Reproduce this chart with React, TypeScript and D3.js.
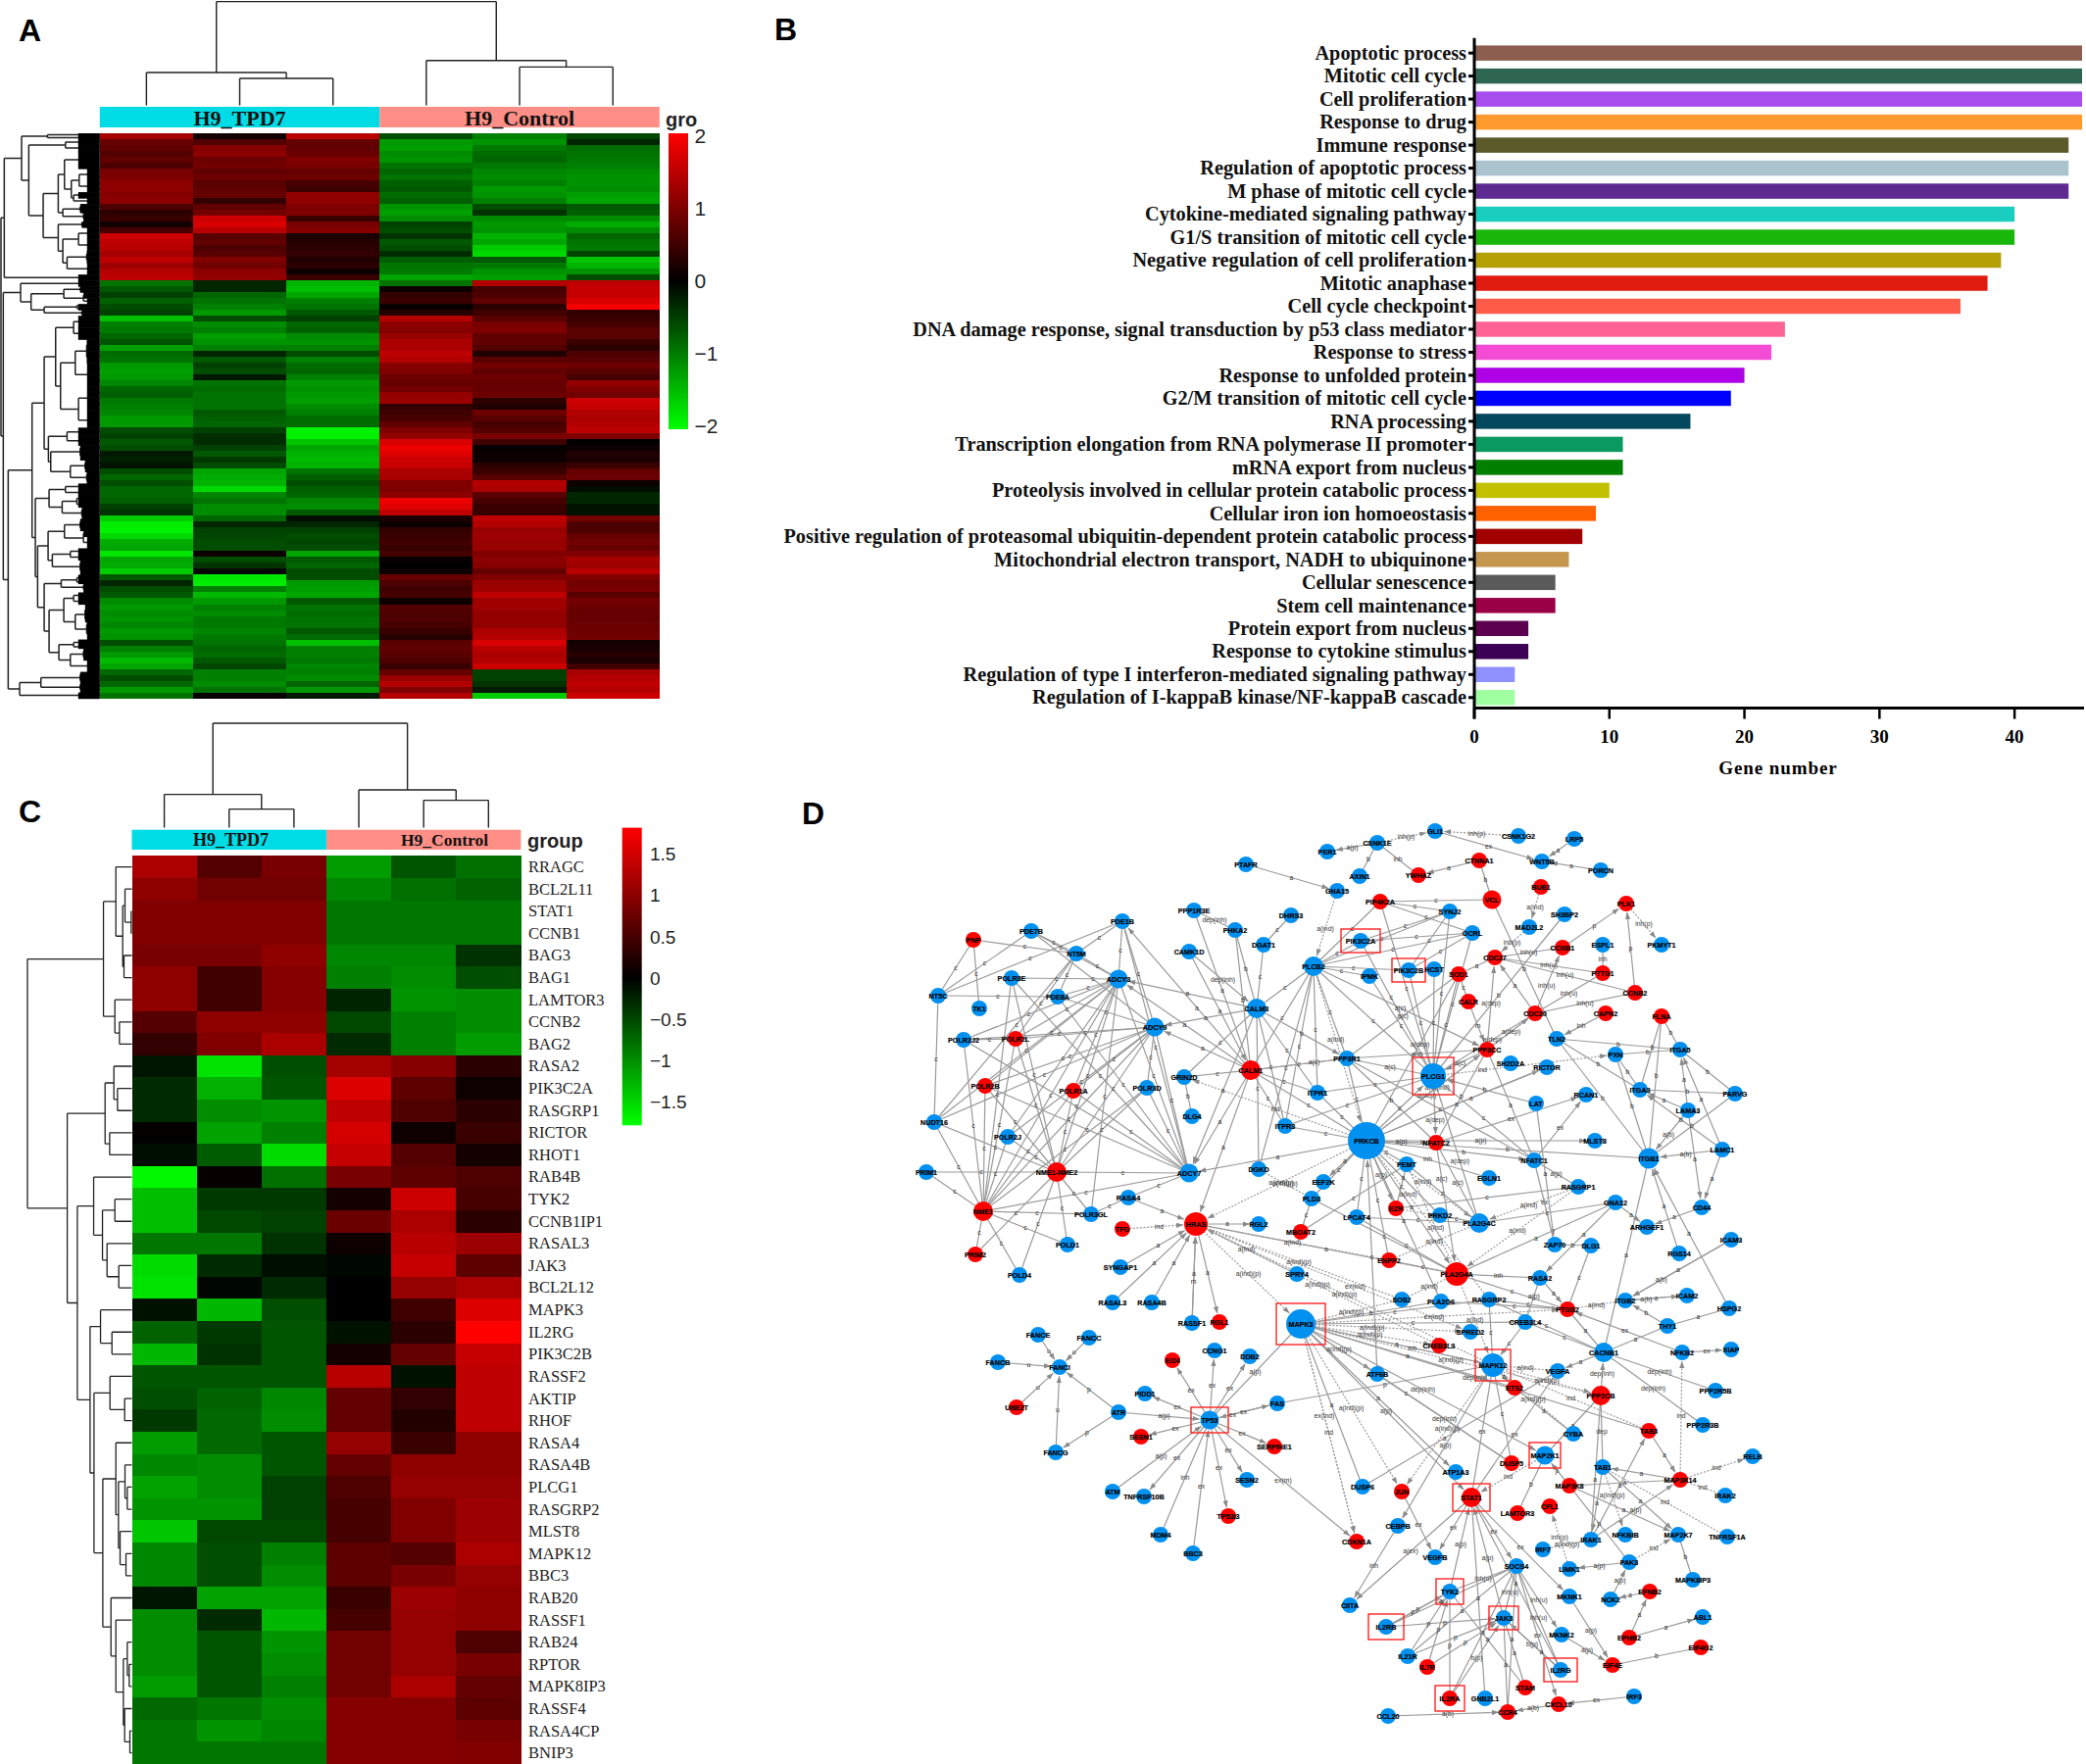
import React from 'react';
import * as d3 from 'd3';

type TreeNode = number | any[];

// ---------- panel A ----------
const groupsA = ['H9_TPD7', 'H9_Control'];
const legendTicksA = [2, 1, 0, -1, -2];
// expression bands, top to bottom, one array per sample
const tpd7A = [1.3,.8,.75,.65,.75,.6,.95,1,1.1,1.1,1.05,1.1,.6,.35,.45,.15,.55,1.6,1.5,1.45,1.3,1.5,1.25,1.4,1.5,-.9,-.7,-.5,-.75,-.6,-.5,-1.5,-1,-.95,-.8,-.65,-1.25,-.85,-.9,-1.2,-1.25,-1.2,-1.05,-.8,-.75,-.95,-1,-1.05,-1.2,-1.2,-.6,-.5,-.7,-.6,-.2,-.25,-.15,-.6,-.8,-.6,-.8,-.8,-.75,-.5,-.4,-1.6,-1.85,-1.9,-1.7,-1.35,-1.3,-1.8,-1.3,-1.35,-1.6,-.7,-.3,-.6,-.7,-1.1,-1.2,-1.1,-1.15,-1.05,-1.2,-1.15,-.6,-1,-1.2,-1.45,-1.3,-.8,-.6,-.8,-1.2,-.9];
const tpd7B = [.15,.65,1.05,1.1,.85,.9,.75,.85,.7,.75,.8,.4,.75,.9,1.6,1.7,1.45,.7,.75,.6,.7,1,.9,1.1,1.15,-.3,-.3,-.8,-.9,-1,-1.2,-.6,-1.1,-1,-1.25,-1.15,-1,-.3,-.7,-.5,-.6,-.2,-.9,-.85,-.9,-.9,-.9,-.7,-.75,-.8,-.5,-.35,-.35,-.5,-.7,-.45,-.6,-1.3,-1.35,-1.4,-1.7,-1.05,-.9,-1.1,-1.1,-.8,-.3,-.5,-.55,-.6,-.6,.1,-.6,-.4,-.05,-1.8,-1.85,-1,-1.45,-1.2,-1,-1.1,-.95,-.95,-1.05,-.95,-.9,-.8,-.85,-.7,-.55,-1,-1,-1.1,-.9,.05];
const tpd7C = [1.45,.8,.75,.85,1,.95,.8,.85,.55,.5,1.15,1.15,1,1,.45,.95,1.05,.2,.3,.35,.4,.25,.35,.1,.45,-1.4,-1.5,-1.3,-1,-.9,-.7,-.5,-.8,-.75,-1.1,-1.15,-1,-.6,-1,-.85,-.8,-1,-1.2,-1.15,-1.2,-1.25,-1.1,-1,-.85,-.85,-1.9,-1.9,-1.55,-1.3,-1.4,-1.45,-1.4,-.9,-.75,-.6,-.75,-.8,-1.05,-1.1,-.7,-.1,-.3,-.5,-.6,-.55,-.6,-1.3,-.7,-.8,-.6,-.6,-1.2,-1.25,-1.3,-.7,-.9,-.85,-.9,-.9,-.7,-.85,-1.5,-1,-1,-.95,-1.05,-1,-1.1,-.8,-1.2,-.2];
const controlA = [-.6,-1.2,-1.25,-1.1,-1.15,-.9,-.8,-.9,-.75,-.7,-.85,-.75,-1.15,-1.25,-1.1,-.5,-.6,-.4,-.7,-.6,-.35,-.75,-.9,-.95,-1.3,-.9,.1,.4,.45,.05,.3,1.4,1.1,1.05,1.2,1.35,1.35,1.5,1.4,1.05,1,.85,.8,.9,1.15,1.2,.4,.5,.55,.75,1,1.15,1.7,1.85,1.75,1.6,1.55,1.35,1.3,1,1,1.1,1.85,1.75,1.5,.2,.1,.4,.45,.5,.45,.55,.05,0,.1,.8,.6,.5,.55,.1,.65,.6,.6,.55,.45,.3,.7,.75,.7,.6,.45,.8,1.2,1.4,1,1.4];
const controlB = [-1,-1.15,-.95,-.85,-.8,-.95,-1.05,-1.1,-1,-1.2,-1.15,-1,-.6,-.4,-1.1,-1.2,-1.15,-1.4,-1.3,-1.6,-1.7,-.7,-.95,-1.15,-1.25,1.4,.55,.6,.75,.35,.5,.7,.95,1,.75,.75,.65,.25,.7,.9,.75,.85,.8,.8,.85,.35,.25,.85,.7,.55,.65,.95,.5,.05,.1,.1,.35,.45,.7,1.4,1.35,.7,.55,.45,.45,1.5,1.4,1.2,1.25,1.2,1.2,1,1.1,1.05,.8,1,1.2,1.25,1.5,1.25,1.25,1.15,1.15,1.15,1.35,1.4,1.7,1.45,1.35,1.4,1.6,-.5,-.5,-.4,-.2,-1.6];
const controlC = [-.55,-.3,-.85,-.9,-.95,-1,-1.1,-1.15,-1.15,-1.1,-1.25,-1.3,-.7,-.75,-1.1,-1.35,-1.1,-.8,-.9,-.95,-.55,-1.55,-1.4,-1.15,-.6,1.5,1.55,1.55,1.7,1.95,.4,.45,.55,.7,.7,.45,.35,.6,.7,.85,.7,.55,1.15,1,.9,1.6,1.55,1.4,1.35,1.4,1.5,1,0,.1,.25,.2,.45,.8,.85,.1,-.1,-.3,-.3,-.15,-.15,.9,.6,.6,.8,.9,.8,1,1.3,1.25,1.45,1,.9,.95,.7,.9,.85,.8,.8,.85,.85,.9,.15,.2,.3,.2,.5,1.3,1.4,1.5,1.4,1.6];
const samplesA = [tpd7A, tpd7B, tpd7C, controlA, controlB, controlC];
// merge heights; a bare number is a leaf and its weight in bands
const colTreeA: TreeNode = [106, [33.6, 1, [27.6, 1, 1]], [45.8, 1, [39.2, 1, 1]]];
const rowTreeA: TreeNode = [302,
  [292,
    [239, [160, .5, .5],
      [217, [105, 1, 1],
        [173,
          [127,
            [108, 3, [87, [63, [30, 1, 1], [25, 1, 1]], [80, 1, [30, .5, .5]]]],
            [113, [60, 1, .5], [50, .5, 1]]],
          [127, [55, .5, .5], [113, [65, [30, 1, 1], [20, 1, 1]], [100, [40, 1, 1], [30, 1, 1]]]]]]],
    1],
  [295,
    [242, 1, [210, [110, [60, .5, .5], [50, 1, [30, .5, .5]]], [170, [70, .5, .5], [55, .5, .5]]]],
    [280,
      [207,
        [170,
          [135, [80, 2, 2], [120, [75, [40, 2, 2], [30, 2, 2]], [65, [35, 2, 2], [30, 2, 1]]]],
          [157, [100, 1.5, 1.5], [150, [60, 1, 1.5], [90, [45, 1, 1], [40, 1, 1]]]]],
        [197,
          [155, [105, 1, 1], [115, [70, 1, 1], [55, 1, 1]]],
          [190,
            [158, [108, [60, 1, 1], [50, 1, [25, 1, 1]]], [145, [90, 1, 1], [60, 1, 1.5]]],
            [170, [118, [70, 1, .5], [50, .5, 1]],
              [155, [110, [80, 1, 1], [75, [45, 2, 1], [40, 1, [20, 1, 1]]]],
                [125, [80, 1, .5], [90, [50, 1, 1], [35, 1, 1]]]]]]]],
      [245, [180, [60, 1, 1], [60, .5, 1]], 1]]]];

// ---------- panel B ----------
const goTerms = ['Apoptotic process', 'Mitotic cell cycle', 'Cell proliferation', 'Response to drug', 'Immune response', 'Regulation of apoptotic process', 'M phase of mitotic cell cycle', 'Cytokine-mediated signaling pathway', 'G1/S transition of mitotic cell cycle', 'Negative regulation of cell proliferation', 'Mitotic anaphase', 'Cell cycle checkpoint', 'DNA damage response, signal transduction by p53 class mediator', 'Response to stress', 'Response to unfolded protein', 'G2/M transition of mitotic cell cycle', 'RNA processing', 'Transcription elongation from RNA polymerase II promoter', 'mRNA export from nucleus', 'Proteolysis involved in cellular protein catabolic process', 'Cellular iron ion homoeostasis', 'Positive regulation of proteasomal ubiquitin-dependent protein catabolic process', 'Mitochondrial electron transport, NADH to ubiquinone', 'Cellular senescence', 'Stem cell maintenance', 'Protein export from nucleus', 'Response to cytokine stimulus', 'Regulation of type I interferon-mediated signaling pathway', 'Regulation of I-kappaB kinase/NF-kappaB cascade'];
const geneCounts = [45, 45, 45, 45, 44, 44, 44, 40, 40, 39, 38, 36, 23, 22, 20, 19, 16, 11, 11, 10, 9, 8, 7, 6, 6, 4, 4, 3, 3];
const barColors = ['#8B5E4F', '#2F6650', '#A64DEE', '#FF9A2E', '#5C5A2A', '#AAC3CF', '#5C2A91', '#19CDBF', '#19B70A', '#B49F05', '#E01B10', '#FF5B49', '#FF6495', '#F54CD5', '#AF02E6', '#0000FF', '#04485E', '#0A9A60', '#007F00', '#C1C100', '#FF6000', '#A00000', '#C4964E', '#5A5A5A', '#990045', '#5E0050', '#3C0055', '#9090FF', '#A0FFA0'];
const geneTicks = [0, 10, 20, 30, 40];

// ---------- panel C ----------
const genesC = ['RRAGC', 'BCL2L11', 'STAT1', 'CCNB1', 'BAG3', 'BAG1', 'LAMTOR3', 'CCNB2', 'BAG2', 'RASA2', 'PIK3C2A', 'RASGRP1', 'RICTOR', 'RHOT1', 'RAB4B', 'TYK2', 'CCNB1IP1', 'RASAL3', 'JAK3', 'BCL2L12', 'MAPK3', 'IL2RG', 'PIK3C2B', 'RASSF2', 'AKTIP', 'RHOF', 'RASA4', 'RASA4B', 'PLCG1', 'RASGRP2', 'MLST8', 'MAPK12', 'BBC3', 'RAB20', 'RASSF1', 'RAB24', 'RPTOR', 'MAPK8IP3', 'RASSF4', 'RASA4CP', 'BNIP3'];
const tpd7Ca = [1.2,1,.9,.9,.85,1,1,.6,.35,-.15,-.3,-.3,.02,-.1,-1.75,-1.35,-1.35,-.85,-1.55,-1.6,-.12,-.7,-1.3,-.6,-.55,-.4,-1.1,-.95,-1.15,-1.05,-1.4,-.95,-.95,-.15,-1,-1,-1,-1.1,-.75,-.85,-.85];
const tpd7Cb = [.6,.8,.9,.9,.85,.45,.45,1,.9,-1.6,-1.25,-1,-1.15,-.65,.05,-.4,-.5,-.85,-.3,-.05,-1.3,-.4,-.35,-.6,-.7,-.75,-.75,-1,-1,-1.05,-.5,-.55,-.55,-1.15,-.3,-.6,-.6,-.6,-.85,-1.05,-.85];
const tpd7Cc = [.85,.8,.9,.9,1,.95,.95,1,1.2,-.55,-.6,-1.05,-.9,-1.55,-.8,-.4,-.45,-.35,-.1,-.3,-.55,-.6,-.6,-.6,-.95,-1,-.6,-.6,-.45,-.45,-.5,-.9,-1,-1.15,-1.3,-1.05,-1,-.9,-1,-.95,-.85];
const controlCa = [-1.1,-.95,-.85,-.85,-.95,-.9,-.25,-.5,-.3,1.15,1.55,1.35,1.5,1.4,.85,.15,.75,.1,-.05,0,0,-.12,.15,1.3,.7,.7,1.05,.7,.55,.5,.5,.65,.65,.4,.5,.8,.8,.8,.95,.95,.95];
const controlCb = [-.6,-.8,-.85,-.85,-.95,-1,-1.05,-.9,-.9,.95,.65,.55,.1,.6,.65,1.45,1.2,1.3,1.4,1.05,.45,.3,.7,-.12,.35,.25,.4,1,1.05,.9,.9,.6,.85,1.1,1.05,1.05,1.05,1.2,.95,.95,.95];
const controlCc = [-.8,-.7,-.85,-.85,-.35,-.55,-1,-1,-1.1,.3,.1,.3,.4,.15,.55,.5,.3,1.1,.65,1.2,1.55,1.8,1.4,1.35,1.35,1.35,1,1,1.05,1.1,1.1,1.2,1.05,1,1,.55,.85,.7,.65,.85,.9];
const samplesC = [tpd7Ca, tpd7Cb, tpd7Cc, controlCa, controlCb, controlCc];
const legendTicksC = [1.5, 1, .5, 0, -.5, -1, -1.5];
const colTreeC: TreeNode = [106.6, [34, 1, [19, 1, 1]], [38.6, 1, [28, 1, 1]]];
const rowTreeC: TreeNode = [320,
  [87, [49, 1, [28, [21, 1, [2, 1, 1]], [24, 1, 1]]], [52, 1, [38, 1, 1]]],
  [198, [82, [55, 1, [44, 1, 1]], [68, 1, 1]],
    [167, [117, 1, [90, [52, 1, 1], [76, 1, [40, 1, 1]]]],
      [128, [96, 1, [61, 1, 1]],
        [116, [67, 1, [22, 1, 1]],
          [89, [49, 1, [41, [21, 1, [14, 1, 1]], [36, 1, [18, 1, 1]]]],
            [64, 1, [49, 1, [26, [14, 1, [8, 1, 1]], [22, 1, [6, 1, 1]]]]]]]]]]];

// ---------- panel D: layout position of every protein ----------
const upNodes = 'PIP4K2A 1408 920,PNP 993 959,YWHAZ 1447 893,SOD1 1488 994,POLR2L 1036 1060,CALM1 1276 1092,POLR2B 1005 1108,POLR1A 1095 1113,NFATC2 1465 1166,NME1-NME2 1078 1196,NME1 1003 1236,EZR 1424 1233,TFG 1145 1254,HRAS 1220 1249,MBOAT2 1327 1257,PRIM2 995 1280,ENPP2 1417 1286,PLA2G4A 1486 1300,CTNNA1 1509 878,BUB1 1572 905,VCL 1522 918,PLK1 1659 922,CCNB1 1594 967,CDC27 1525 977,PTTG1 1635 993,CCNB2 1668 1013,CALR 1498 1022,CDC20 1566 1034,CAPN2 1638 1034,FLNA 1695 1037,PPP3CC 1517 1071,PTGS2 1599 1336,CREB3L3 1468 1373,ETS2 1545 1416,PPP2CB 1633 1424,TAB3 1682 1460,DUSP5 1542 1493,MAP3K14 1714 1510,MAP3K8 1601 1516,JUN 1430 1522,STAT1 1501 1528,CFL1 1581 1537,LAMTOR3 1548 1544,EFNB2 1683 1624,EPHB2 1662 1671,EIF4G2 1735 1681,IL7R 1456 1701,EIF4E 1645 1699,STAM 1556 1722,IL2RA 1479 1733,CCR4 1538 1747,CXCL10 1590 1739,RGL1 1244 1349,EI24 1196 1388,UBE2T 1037 1436,SESN1 1164 1466,SERPINE1 1300 1476,TP53I3 1253 1547,CDKN1A 1384 1573'.split(',');
const downNodes = 'GLI1 1464 848,CSNK1E 1405 860,PER1 1354 869,AXIN1 1387 894,PTAFR 1271 882,GNA15 1364 909,SYNJ2 1479 930,PPP1R3E 1218 929,DHRS3 1317 934,PHKA2 1260 949,DGAT1 1289 964,PDE1B 1145 940,PDE7B 1052 950,NT5M 1098 973,CAMK1D 1213 971,PIK3C2A 1388 960,PLCB2 1340 986,PIK3C2B 1437 990,HCST 1463 989,IPMK 1397 996,POLR3E 1032 998,ADCY3 1141 999,NT5C 957 1016,PDE8A 1079 1017,TK1 999 1029,CALM3 1282 1029,ADCY9 1178 1048,POLR2J2 983 1061,PPP3R1 1374 1080,PLCG1 1462 1098,GRIN2D 1208 1099,POLR3D 1170 1110,ITPR1 1344 1115,DLG4 1216 1139,NUDT16 953 1145,ITPR3 1311 1149,PRKCB 1394 1164,POLR2J 1028 1160,PRIM1 945 1196,ADCY7 1213 1197,DGKD 1284 1193,PEMT 1435 1188,EEF2K 1350 1206,RASA4 1151 1222,PLD3 1338 1223,LPCAT4 1384 1242,PRKD2 1469 1240,POLR3GL 1113 1239,RGL2 1284 1249,POLD1 1089 1270,SYNGAP1 1143 1293,SPRY4 1323 1300,POLD4 1040 1301,CSNK1G2 1549 853,LRP5 1606 856,WNT5B 1573 879,PORCN 1633 888,SH3BP2 1596 933,MAD2L2 1560 946,OCRL 1502 952,PKMYT1 1695 964,ESPL1 1635 964,TLN2 1588 1060,PXN 1648 1076,ITGA5 1714 1071,SH2D2A 1541 1085,RICTOR 1578 1089,ITGA3 1673 1112,PARVG 1770 1116,RCAN1 1618 1117,LAT 1567 1126,LAMA3 1722 1133,MLST8 1627 1164,LAMC1 1757 1173,ITGB1 1682 1182,NFATC1 1565 1184,EGLN1 1519 1202,RASGRP1 1610 1211,GNA12 1648 1227,CD44 1736 1232,PLA2G4C 1509 1248,ARHGEF1 1680 1252,ICAM3 1766 1265,ZAP70 1586 1270,DLG1 1623 1271,RGS14 1713 1279,RASA2 1571 1304,SOS2 1430 1326,PLA2G6 1470 1328,RASGRP2 1519 1326,ITGB2 1658 1327,ICAM2 1721 1322,HSPG2 1764 1335,CREB3L4 1556 1349,THY1 1701 1353,SPRED2 1500 1359,CACNB1 1636 1380,NFKB2 1716 1380,XIAP 1766 1377,MAPK12 1523 1393,VEGFA 1589 1399,ATF6B 1405 1402,PPP2R5B 1750 1419,PPP2R3B 1737 1454,CYBA 1605 1463,MAP2K1 1576 1485,RELB 1788 1486,TAB1 1635 1497,ATP1A3 1485 1502,IRAK2 1760 1526,CEBPB 1426 1557,NFKBIB 1658 1566,MAP2K7 1712 1566,TNFRSF1A 1762 1568,IRAK1 1623 1571,IRF7 1574 1581,VEGFB 1464 1589,PAK3 1662 1594,SOCS4 1547 1598,LIMK1 1601 1601,MAPK8IP3 1727 1612,TYK2 1479 1624,MKNK1 1601 1629,NCK2 1643 1632,ABL1 1737 1650,JAK3 1534 1651,IL2RB 1414 1660,MKNK2 1593 1668,IL21R 1436 1690,IL2RG 1592 1704,GNB2L1 1515 1733,IRF3 1667 1731,CCL20 1416 1751,RASAL3 1135 1329,RASA4B 1175 1329,RASSF1 1216 1350,MAPK3 1327 1351,FANCE 1059 1362,FANCC 1111 1365,CCNG1 1239 1378,DDB2 1275 1384,FANCB 1018 1390,FANCI 1081 1395,PIDD1 1168 1422,ATR 1141 1441,FAS 1303 1432,TP53 1234 1449,FANCG 1077 1482,SESN2 1272 1510,ATM 1135 1522,TNFRSF10B 1167 1527,DUSP6 1390 1517,MDM4 1184 1566,BBC3 1217 1585,CIITA 1377 1638'.split(',');
const nodeSizes: Record<string, number> = { PRKCB: 19, MAPK3: 15, PLCG1: 13, MAPK12: 12, HRAS: 12, PLA2G4A: 12, ITGB1: 10.5, PLA2G4C: 10, CALM1: 10, 'NME1-NME2': 10, NME1: 10, STAT1: 10, PPP2CB: 10, PLCB2: 10, CALM3: 10, VCL: 9.5, CACNB1: 10, TP53: 9.5, MAP2K1: 9.5, ADCY9: 9.5, ADCY3: 9.5, ADCY7: 9.5 };
const boxedNodes = 'PIK3C2A 20 12,PIK3C2B 17 12,PLCG1 21 19,MAPK3 25 21,TP53 19 13,MAPK12 18 16,MAP2K1 16 13,STAT1 19 14,TYK2 14 13,JAK3 15 12,IL2RB 18 13,IL2RG 17 12,IL2RA 15 13'.split(',');
// "source target label" and a trailing ">" where the edge has an arrow head
const edgeList = `CSNK1E PER1 a(p) >,CSNK1E AXIN1 b,CSNK1E YWHAZ inh,CSNK1E GLI1 inh(p) >,CSNK1G2 GLI1 inh(p) >,GLI1 WNT5B ex >,CTNNA1 YWHAZ a >,CTNNA1 VCL b,LRP5 WNT5B a >,PORCN WNT5B a >,PTAFR GNA15 a >,GNA15 PLCB2 a(ind) >,PIP4K2A VCL c,PIP4K2A SYNJ2 c,PIP4K2A OCRL c,PIP4K2A PLCB2 c,PIP4K2A PLCG1 c,PPP1R3E PHKA2 dep(inh),PPP1R3E CALM1 a,PHKA2 CALM3 b,PHKA2 CALM1 b,DHRS3 DGAT1 c,DGAT1 CALM3 c,CAMK1D CALM3 dep(inh) >,CAMK1D CALM1 a >,PLCB2 CALM3 c,PLCB2 PIK3C2A c,PLCB2 PIK3C2B c,PLCB2 IPMK c,PLCB2 SYNJ2 c,PLCB2 OCRL c,PLCB2 CALM1 c,PLCB2 ITPR1 c,PLCB2 ITPR3 c,PLCB2 DGKD c,PLCB2 PPP3R1 c,PLCB2 PLCG1 c,PLCB2 PRKCB a(ind) >,PLCB2 PPP3CC a(c) >,PIK3C2A SYNJ2 c,PIK3C2A OCRL c,PIK3C2A PLCG1 c,PIK3C2B OCRL c,PIK3C2B SYNJ2 c,PIK3C2B PLCG1 c,HCST PLCG1 c,SOD1 CDC27 a,SOD1 CALR c,SOD1 PLCG1 c,OCRL PLCG1 c,SYNJ2 PLCG1 c,IPMK PLCG1 c,PNP NT5M c,PNP NT5C c,PNP TK1 c,PDE7B NT5C c,PDE1B NT5C c,PDE1B NT5M c,PDE7B NT5M c,PDE7B ADCY3 c,PDE7B ADCY9 c,PDE1B ADCY3 c,PDE1B ADCY9 c,PDE1B ADCY7 c,NT5M ADCY3 c,NT5M PDE8A c,NT5M POLR2L c,NT5M NUDT16 c,NT5C PDE8A c,NT5C NUDT16 c,POLR3E ADCY3 c,POLR3E NME1 c,POLR3E NME1-NME2 c,POLR3E ADCY7 c,PDE8A ADCY3 c,PDE8A ADCY9 c,PDE8A ADCY7 c,ADCY3 POLR2J2 c,ADCY3 NME1 c,ADCY3 NME1-NME2 c,ADCY3 POLR1A c,ADCY3 POLR2J c,ADCY3 POLR3GL c,ADCY3 POLR2L c,ADCY3 POLR2B c,ADCY3 NUDT16 c,ADCY3 ADCY7 c,ADCY9 POLR2J2 c,ADCY9 POLR2L c,ADCY9 POLR2B c,ADCY9 POLR1A c,ADCY9 NME1 c,ADCY9 NME1-NME2 c,ADCY9 POLR2J c,ADCY9 POLR3D c,ADCY9 NUDT16 c,ADCY9 ADCY7 c,POLR2J2 POLR2L c,POLR2J2 NME1 c,POLR2J2 ADCY7 c,POLR2L NME1 c,POLR2L NME1-NME2 c,POLR2B NME1 c,POLR2B NME1-NME2 c,POLR2B ADCY7 c,POLR1A NME1 c,POLR1A NME1-NME2 c,POLR1A ADCY7 c,POLR3D NME1 c,POLR3D NME1-NME2 c,POLR3D ADCY7 c,NUDT16 NME1 c,NUDT16 NME1-NME2 c,POLR2J NME1 c,POLR2J NME1-NME2 c,PRIM1 NME1 c,PRIM1 NME1-NME2 c,NME1 ADCY7 c,NME1-NME2 ADCY7 c,NME1 POLR3GL c,NME1 POLD1 c,NME1 POLD4 c,NME1 PRIM2 c,NME1-NME2 POLD1 c,NME1-NME2 POLD4 c,NME1-NME2 PRIM2 c,NME1-NME2 POLR3GL c,RASA4 POLR3GL c,ADCY7 RASA4 c,CALM3 ADCY3 a >,CALM3 ADCY9 a >,CALM1 ADCY3 a >,CALM1 ADCY9 a >,CALM1 PDE1B a >,CALM3 GRIN2D c,CALM1 GRIN2D c,GRIN2D DLG4 b,CALM3 ITPR1 c,CALM3 ITPR3 c,CALM3 PPP3R1 b >,CALM1 PPP3R1 c,CALM1 PPP3R1 a(c),CALM1 ITPR1 c,CALM1 ITPR3 c,CALM1 PRKCB c,CALM1 ADCY7 a >,CALM3 ADCY7 a >,CALM1 HRAS a >,CALM3 DGKD c,PPP3R1 PRKCB c,PPP3R1 PLCG1 a(c),PPP3R1 SOD1 a(c),PPP3R1 NFATC2 b,PPP3R1 PPP3CC a(c),PPP3R1 NFATC1 c,ITPR1 PRKCB c,ITPR1 PLCG1 c,ITPR3 PRKCB c,ITPR3 PLCG1 c,PRKCB PLCG1 c >,PRKCB GRIN2D ind >,PRKCB ADCY7 a >,PRKCB NFATC2 a(p) >,PRKCB MLST8 a(p) >,PRKCB NFATC1 b >,PRKCB EGLN1 inh,PRKCB EEF2K a >,PRKCB PLD3 c,PRKCB PEMT c,PRKCB HRAS a(ind)(p) >,PRKCB EZR a(p) >,PRKCB LPCAT4 c,PRKCB PRKD2 a,PRKCB PLA2G4A a >,PRKCB PLA2G4C a(ind) >,PRKCB ENPP2 c,PRKCB PLA2G6 a,PRKCB RICTOR a >,PRKCB PPP3CC a(dep) >,PRKCB CDC20 a(c)(ind),PRKCB SOD1 a(dep),RASA4 HRAS a >,TFG HRAS ind >,HRAS RGL2 a >,SYNGAP1 HRAS a >,RASAL3 HRAS a >,RASA4B HRAS a >,RASSF1 HRAS a >,RASSF1 HRAS m >,HRAS RGL1 a >,HRAS PLA2G4A a,SPRY4 HRAS a(ind) >,HRAS CREB3L3 a(ind)(p),HRAS MAPK3 a(ind)(p) >,HRAS SPRED2 ex(ind) >,HRAS MAPK12 a(ind)(p),HRAS ENPP2 a(ind),HRAS SOS2 a(ind)(p),DGKD PLD3 a(ind)(p),PLD3 MBOAT2 c,PEMT MBOAT2 c,PEMT EZR c,PEMT PLA2G4A a(ind),PEMT PLA2G4C c,PLD3 PLA2G4A c,LPCAT4 PLA2G4A c,LPCAT4 PLA2G4C c,EZR PLA2G4C a(ind),PRKD2 PLA2G4C c,ENPP2 PLA2G4A c,ENPP2 PLA2G4C a(ind),RASGRP1 EZR c,RASGRP1 PLA2G4A a(ind) >,RASGRP1 PLA2G4C a(ind) >,NFATC1 RASGRP1 a(p),VCL TLN2 b,SH3BP2 PLCG1 b,BUB1 MAD2L2 a(ind) >,MAD2L2 CDC27 inh(p) >,PLK1 PKMYT1 inh(p) >,CCNB1 PLK1 p >,CCNB2 PLK1 p >,CDC27 CCNB1 inh(u),CDC27 PTTG1 inh(u),CDC27 CCNB2 inh(u),CDC20 CCNB1 inh(u) >,CDC20 PTTG1 inh(u),CDC20 CCNB2 inh(u),CDC20 CDC27 a >,ESPL1 PTTG1 inh,PPP3CC CDC20 a(dep) >,PPP3CC CDC27 a(dep) >,PLCG1 CDC20 a(dep),CALR PPP3CC m >,CAPN2 TLN2 inh >,TLN2 ITGA5 b,TLN2 ITGB1 b,TLN2 ITGA3 b,PXN ITGA5 b,PXN ITGA3 b,PXN ITGB1 b,FLNA ITGA5 b,FLNA ITGA3 b,FLNA ITGB1 b,ITGA5 PARVG b,ITGA3 PARVG b,LAMA3 ITGA5 a >,LAMA3 ITGA3 a >,LAMC1 ITGA5 a >,LAMC1 ITGA3 b >,LAMA3 ITGB1 a(b) >,LAMC1 ITGB1 a(b) >,PARVG ITGB1 b,PRKCB ITGB1 b,LAMA3 CD44 a >,LAMC1 CD44 a >,CD44 ARHGEF1 a >,GNA12 ARHGEF1 a >,GNA12 PLA2G4C c,GNA12 PLA2G4A a,GNA12 RASA2 a >,LAT ZAP70 a >,ZAP70 DLG1 b,DLG1 PTGS2 c,NFATC1 RCAN1 ex >,NFATC2 RCAN1 ex >,NFATC1 ZAP70 ex,LAT PLCG1 b >,PPP3CC NFATC1 a,PPP3CC NFATC2 b,PPP3CC PLCG1 a(c) >,PLCG1 NFATC2 a(dep) >,PLCG1 PXN ind >,PLCG1 NFATC1 c,RICTOR PRKCB a,NFATC2 PLA2G4C a(c),NFATC2 PLA2G4A a(c) >,PLCG1 PLA2G4C a(dep),RGS14 ITGB1 a >,ICAM3 ITGB2 a >,ICAM3 ITGB2 a(b) >,ITGB2 ICAM2 a >,ITGB2 ICAM2 a(b),THY1 ITGB2 b >,THY1 HSPG2 a,HSPG2 ITGB1 a >,CACNB1 THY1 a,CACNB1 ITGB1 a,CACNB1 PTGS2 a,PTGS2 ITGB2 a(ind),NFKB2 PTGS2 ex >,NFKB2 XIAP ex >,CACNB1 PPP2R5B dep(inh),CACNB1 PPP2R3B dep(inh),PPP2CB CACNB1 dep(inh) >,CACNB1 VEGFA a >,CACNB1 CREB3L4 c,CACNB1 RASGRP2 c,TAB3 MAP3K14 a >,MAP3K14 NFKB2 ind >,MAP3K14 RELB ind >,MAP3K14 IRAK2 ind,MAP3K14 TAB1 a >,MAP3K14 MAP3K8 a,IRAK1 TAB3 a >,TAB1 IRAK1 a >,TAB1 MAP2K7 a >,TAB1 TNFRSF1A ind,TAB1 NFKBIB a(ind)(p) >,IRAK1 PPP2CB a,MAP3K8 MAP2K7 a >,MAP3K8 MAP2K1 p >,MAP3K8 PAK3 p,PAK3 LIMK1 a(p) >,PAK3 MAP2K7 ind >,NCK2 PAK3 a(p) >,EFNB2 NCK2 a >,EPHB2 EFNB2 a >,EPHB2 ABL1 a >,MAP2K7 MAPK8IP3 b,LIMK1 CFL1 inh(p) >,IRAK1 IRF7 a(ind)(p),IRAK1 MAP3K14 a(p) >,MAP2K1 LAMTOR3 b,MKNK1 EIF4E a(p) >,MKNK2 EIF4E a(p) >,EIF4E EIF4G2 b,STAT1 MKNK1 ex >,IRF3 CXCL10 ex >,CCL20 CCR4 a(b) >,CXCL10 CCR4 a(b) >,SOCS4 MKNK2 inh(u) >,SOCS4 TYK2 inh(u),SOCS4 JAK3 inh(u),SOCS4 IL2RG inh(u),SOCS4 IL2RB a,SOCS4 IL21R a,SOCS4 IL2RA a,TYK2 STAT1 a(p) >,JAK3 STAT1 a(p) >,IL2RB TYK2 p >,IL2RB TYK2 p,IL21R TYK2 p >,IL7R TYK2 p >,IL2RA TYK2 p,IL2RB JAK3 p >,IL21R JAK3 p >,IL7R JAK3 p >,IL2RA JAK3 b(p) >,IL2RG JAK3 b(p) >,IL2RG JAK3 a,JAK3 CCR4 a,SOCS4 CCR4 a,JAK3 STAM a,TYK2 STAM a,SOCS4 CXCL10 ex >,STAT1 GNB2L1 a,STAT1 VEGFB ex >,STAT1 SOCS4 ex >,STAT1 CIITA a(ex) >,STAT1 IL2RG a,CEBPB CIITA inh >,JUN VEGFB ex >,MAPK12 JUN a(ind)(p) >,MAPK12 STAT1 ex,MAPK12 DUSP5 c,MAPK12 ETS2 c >,MAPK12 PPP2CB a(ind)(p) >,MAPK12 TAB3 ind,MAPK12 CYBA a(ind)(p),VEGFA MAPK12 a(ind),VEGFA STAT1 ex,ETS2 CYBA a,MAPK12 CEBPB a(p) >,MAPK12 FAS p,TAB1 PPP2CB dep,MAP2K1 PPP2CB a,MAP2K1 STAT1 ind >,CREB3L4 MAPK12 c >,RASGRP2 MAPK12 c,MAPK3 TP53 a(p),MAPK3 DUSP6 a,MAPK3 JUN a(ind)(p) >,MAPK3 CDKN1A ind >,MAPK3 CDKN1A ex(ind) >,MAPK3 ATF6B a(ind)(p) >,MAPK3 ATP1A3 a >,MAPK3 STAT1 a(p) >,MAPK3 ETS2 a,MAPK3 CREB3L3 a(ind)(p) >,MAPK3 PPP2CB a(ind)(p),MAPK3 MAP2K1 dep(inh) >,MAPK3 DUSP5 c,MAPK3 TAB3 dep(inh),MAPK3 PLA2G6 a,MAPK3 PTGS2 ex(ind) >,MAPK3 SOS2 a(ind)(p),MAPK3 RASGRP2 c,MAPK3 MAPK12 a >,MAPK3 MAPK12 inh,MAPK3 CREB3L4 c,MAPK3 SPRED2 a(ind)(p) >,DUSP6 VEGFA a,ATF6B DUSP5 dep(inh),PLA2G6 PTGS2 c >,RASGRP2 PTGS2 c,PLA2G4A PTGS2 c,RASA2 PTGS2 a >,RASA2 CREB3L4 a(p),PLA2G4A RASA2 inh,SOS2 PLA2G4A a(ind),ATF6B PRKCB c >,PRKCB RASGRP2 a(ind),PLA2G4A MAPK12 a(ind) >,TP53 EI24 ex >,TP53 CCNG1 ex >,TP53 DDB2 ex >,TP53 PIDD1 ex >,TP53 SESN1 ex >,TP53 SERPINE1 ex >,TP53 SESN2 ex >,TP53 TP53I3 ex >,TP53 TNFRSF10B ex >,BBC3 TP53 ex >,MDM4 TP53 inh,ATM TP53 a(p) >,ATR TP53 a(p) >,FAS TP53 ex >,TP53 FAS ex >,TP53 CDKN1A ex(m) >,ATR FANCI p >,ATR FANCG p >,FANCG FANCI u >,FANCE FANCI u >,FANCC FANCI u >,FANCB FANCI u >,UBE2T FANCI u >`.split(',');

// colours shared by both heat maps
const heatRamp = (t: number) => t < 0.5 ? d3.rgb(0, Math.round(255 * (1 - 2 * t)), 0).formatHex() : d3.rgb(Math.round(255 * (2 * t - 1)), 0, 0).formatHex();
const SERIF = '"Liberation Serif", serif';
const SANS = '"Liberation Sans", sans-serif';

// walks a nested merge tree and returns a path, plus the span of each leaf
function layoutTree(tree: TreeNode, toDepth: (h: number) => number, toPos: (p: number) => number, horizontal: boolean) {
  const path = d3.path();
  const leaves: { from: number; to: number; parentH: number }[] = [];
  let cursor = 0;
  const seg = (d0: number, p0: number, d1: number, p1: number) => {
    if (horizontal) { path.moveTo(d0, p0); path.lineTo(d1, p1); } else { path.moveTo(p0, d0); path.lineTo(p1, d1); }
  };
  const walk = (n: TreeNode, parentH: number): { pos: number; h: number } => {
    if (typeof n === 'number') {
      leaves.push({ from: cursor, to: cursor + n, parentH });
      const pos = cursor + n / 2;
      cursor += n;
      return { pos, h: 0 };
    }
    const h = n[0] as number;
    const kids = n.slice(1).map((c: TreeNode) => walk(c, h));
    const first = kids[0].pos;
    const last = kids[kids.length - 1].pos;
    kids.forEach((k: { pos: number; h: number }) => seg(toDepth(k.h), toPos(k.pos), toDepth(h), toPos(k.pos)));
    seg(toDepth(h), toPos(first), toDepth(h), toPos(last));
    return { pos: (first + last) / 2, h };
  };
  walk(tree, 0);
  return { d: path.toString(), leaves };
}

function HeatColumns({ samples, x, y, color }: { samples: number[][]; x: d3.ScaleBand<number>; y: d3.ScaleBand<number>; color: (v: number) => string }) {
  return (
    <g shapeRendering="crispEdges">
      {samples.map((col, c) => col.map((v, r) => (
        <rect key={`${c}-${r}`} x={x(c)} y={y(r)} width={x.bandwidth() + 0.5} height={y.bandwidth() + 0.5} fill={color(v)} />
      )))}
    </g>
  );
}

function GradientLegend({ id, x, width, top, bottom, domain }: { id: string; x: number; width: number; top: number; bottom: number; domain: [number, number] }) {
  return (
    <g>
      <defs>
        <linearGradient id={id} x1="0" y1="1" x2="0" y2="0">
          <stop offset="0" stopColor="#00ff00" />
          <stop offset={(0 - domain[0]) / (domain[1] - domain[0])} stopColor="#000000" />
          <stop offset="1" stopColor="#ff0000" />
        </linearGradient>
      </defs>
      <rect x={x} y={top} width={width} height={bottom - top} fill={`url(#${id})`} />
    </g>
  );
}

function PanelA() {
  const n = tpd7A.length;
  const x = d3.scaleBand<number>().domain(d3.range(6)).range([101.8, 672.8]);
  const y = d3.scaleBand<number>().domain(d3.range(n)).range([136, 712.6]);
  const color = d3.scaleSequential(heatRamp).domain([-2, 2]).clamp(true);
  const colTree = layoutTree(colTreeA, d3.scaleLinear().domain([0, 106]).range([107.6, 1.6]), d3.scaleLinear().domain([0, 6]).range([101.8, 672.8]), false);
  const depth = d3.scaleLinear().domain([0, 305]).range([101.8, 0]);
  const pos = d3.scaleLinear().domain([0, 96]).range([136, 712.6]);
  const rowTree = layoutTree(rowTreeA, depth, pos, true);
  const legendY = d3.scaleLinear().domain([-2.04, 2.04]).range([438, 136]);
  return (
    <g>
      <text x={19} y={42} fontFamily={SANS} fontWeight="bold" fontSize={32}>A</text>
      <path d={colTree.d} fill="none" stroke="#222" strokeWidth={1.4} />
      <rect x={x(0)} y={109} width={x.bandwidth() * 3} height={21} fill="#00DCE6" />
      <rect x={x(3)} y={109} width={x.bandwidth() * 3} height={21} fill="#FF8E87" />
      <text x={x(0)! + x.bandwidth() * 1.5} y={120} dy="0.35em" textAnchor="middle" fontFamily={SERIF} fontWeight="bold" fontSize={22} fill="#111">{groupsA[0]}</text>
      <text x={x(3)! + x.bandwidth() * 1.5} y={120} dy="0.35em" textAnchor="middle" fontFamily={SERIF} fontWeight="bold" fontSize={22} fill="#111">{groupsA[1]}</text>
      <text x={679} y={122} dy="0.35em" fontFamily={SANS} fontWeight="bold" fontSize={20} fill="#222">gro</text>
      <path d={rowTree.d} fill="none" stroke="#222" strokeWidth={1.5} />
      <g>
        {rowTree.leaves.map((l, i) => {
          const w = Math.max(Math.min(l.parentH, 66) / 3, 13);
          return <rect key={i} x={101.8 - w} y={pos(l.from)} width={w} height={pos(l.to) - pos(l.from) + 0.6} fill="#000" />;
        })}
      </g>
      <HeatColumns samples={samplesA} x={x} y={y} color={color} />
      <GradientLegend id="legendA" x={682} width={20} top={136} bottom={438} domain={[-2.04, 2.04]} />
      {legendTicksA.map(t => (
        <text key={t} x={708.5} y={legendY(t)} dy="0.35em" fontFamily={SANS} fontSize={21} fill="#222">{t < 0 ? `\u2212${-t}` : t}</text>
      ))}
    </g>
  );
}

function PanelB() {
  const x = d3.scaleLinear().domain([0, 45]).range([1504, 2124]);
  const y = d3.scaleBand<string>().domain(goTerms).range([42.4, 723.5]).paddingInner(0.34).paddingOuter(0.17);
  const axisY = 722.6;
  return (
    <g>
      <text x={790} y={41} fontFamily={SANS} fontWeight="bold" fontSize={32}>B</text>
      {goTerms.map((term, i) => {
        const cy = y(term)! + y.bandwidth() / 2;
        return (
          <g key={term}>
            <rect x={x(0)} y={y(term)} width={x(geneCounts[i]) - x(0)} height={y.bandwidth()} fill={barColors[i]} />
            <line x1={x(0) - 6} x2={x(0)} y1={cy} y2={cy} stroke="#000" strokeWidth={3} />
            <text x={x(0) - 8} y={cy} dy="0.33em" textAnchor="end" fontFamily={SERIF} fontWeight="bold" fontSize={20.3} fill="#111">{term}</text>
          </g>
        );
      })}
      <line x1={x(0)} x2={x(0)} y1={38.7} y2={axisY + 11} stroke="#000" strokeWidth={3} />
      <line x1={x(0)} x2={2126} y1={axisY} y2={axisY} stroke="#000" strokeWidth={3} />
      {geneTicks.map(t => (
        <g key={t}>
          <line x1={x(t)} x2={x(t)} y1={axisY} y2={axisY + 11} stroke="#000" strokeWidth={2.5} />
          <text x={x(t)} y={751} dy="0.35em" textAnchor="middle" fontFamily={SERIF} fontWeight="bold" fontSize={19}>{t}</text>
        </g>
      ))}
      <text x={1814} y={783} dy="0.35em" textAnchor="middle" fontFamily={SERIF} fontWeight="bold" fontSize={19} letterSpacing={0.9}>Gene number</text>
    </g>
  );
}

function PanelC() {
  const x = d3.scaleBand<number>().domain(d3.range(6)).range([134.5, 531.4]);
  const y = d3.scaleBand<string>().domain(genesC).range([873.3, 1800]);
  const yIdx = d3.scaleBand<number>().domain(d3.range(genesC.length)).range([873.3, 1800]);
  const color = d3.scaleSequential(heatRamp).domain([-1.8, 1.8]).clamp(true);
  const colTree = layoutTree(colTreeC, d3.scaleLinear().domain([0, 106.6]).range([844.6, 738]), d3.scaleLinear().domain([0, 6]).range([134.5, 531.4]), false);
  const rowTree = layoutTree(rowTreeC, d3.scaleLinear().domain([0, 344]).range([134.5, 20]), d3.scaleLinear().domain([0, 41]).range([873.3, 1800]), true);
  const legendY = d3.scaleLinear().domain([-1.78, 1.82]).range([1148.3, 844.6]);
  return (
    <g>
      <text x={19} y={839} fontFamily={SANS} fontWeight="bold" fontSize={32}>C</text>
      <path d={colTree.d} fill="none" stroke="#222" strokeWidth={1.4} />
      <rect x={x(0)} y={846.7} width={x.bandwidth() * 3} height={20.3} fill="#00DCE6" />
      <rect x={x(3)} y={846.7} width={x.bandwidth() * 3} height={20.3} fill="#FF8E87" />
      <text x={235.5} y={856.8} dy="0.35em" textAnchor="middle" fontFamily={SERIF} fontWeight="bold" fontSize={18} fill="#111">{groupsA[0]}</text>
      <text x={453.5} y={856.8} dy="0.35em" textAnchor="middle" fontFamily={SERIF} fontWeight="bold" fontSize={17.5} fill="#111">{groupsA[1]}</text>
      <text x={538} y={857.5} dy="0.35em" fontFamily={SANS} fontWeight="bold" fontSize={20} fill="#222">group</text>
      <path d={rowTree.d} fill="none" stroke="#222" strokeWidth={1.3} />
      <HeatColumns samples={samplesC} x={x} y={yIdx} color={color} />
      {genesC.map(g => (
        <text key={g} x={539} y={y(g)! + y.bandwidth() / 2} dy="0.33em" fontFamily={SERIF} fontSize={16.5} fill="#222">{g}</text>
      ))}
      <GradientLegend id="legendC" x={634.7} width={20} top={844.6} bottom={1148.3} domain={[-1.78, 1.82]} />
      {legendTicksC.map(t => (
        <text key={t} x={663} y={legendY(t)} dy="0.35em" fontFamily={SANS} fontSize={19} fill="#222">{t < 0 ? `\u2212${-t}` : t}</text>
      ))}
    </g>
  );
}

function PanelD() {
  const lx = d3.scaleLinear().domain([945, 1788]).range([945, 1788]);
  const ly = d3.scaleLinear().domain([848, 1751]).range([848, 1751]);
  const parse = (s: string, up: boolean) => {
    const [name, a, b] = s.split(' ');
    return { name, x: lx(+a), y: ly(+b), up, r: nodeSizes[name] ?? 8 };
  };
  const nodes = [...upNodes.map(s => parse(s, true)), ...downNodes.map(s => parse(s, false))];
  const byName = new Map(nodes.map(n => [n.name, n]));
  // rough text boxes, so edge labels can slide along their edge away from what is already placed
  const placed = nodes.map(n => ({ x: n.x, y: n.y, w: n.name.length * 2.6 + 1, h: 4.5 }));
  const hits = (x: number, y: number, w: number, h: number) =>
    placed.some(b => Math.abs(b.x - x) < b.w + w && Math.abs(b.y - y) < b.h + h);
  const edges = edgeList
    .map(s => s.split(' '))
    .filter(([a, b]) => byName.has(a) && byName.has(b))
    .map(([a, b, label, arrow], i) => {
      const s = byName.get(a)!;
      const t = byName.get(b)!;
      const len = Math.hypot(t.x - s.x, t.y - s.y) || 1;
      const head = arrow ? t.r + 1 : 0;
      const w = label.length * 1.7 + 0.5;
      const spots = [0.5, 0.42, 0.58, 0.34, 0.66, 0.27, 0.73].map(f => ({ x: s.x + (t.x - s.x) * f, y: s.y + (t.y - s.y) * f }));
      const spot = spots.find(p => !hits(p.x, p.y, w, 3.6)) ?? spots[0];
      placed.push({ x: spot.x, y: spot.y, w, h: 3.6 });
      return {
        key: `${i}-${a}-${b}`,
        x1: s.x, y1: s.y,
        x2: t.x - (t.x - s.x) * head / len,
        y2: t.y - (t.y - s.y) * head / len,
        mx: spot.x, my: spot.y,
        label, arrow: !!arrow,
        dashed: /ind|inh\(p\)/.test(label),
      };
    });
  return (
    <g>
      <text x={818} y={841} fontFamily={SANS} fontWeight="bold" fontSize={32}>D</text>
      <defs>
        <marker id="edgeHead" viewBox="0 0 8 6" refX="8" refY="3" markerWidth="7" markerHeight="5.5" markerUnits="userSpaceOnUse" orient="auto">
          <path d="M0,0L8,3L0,6Z" fill="#8a8a8a" />
        </marker>
      </defs>
      {edges.map(e => (
        <line key={e.key} x1={e.x1} y1={e.y1} x2={e.x2} y2={e.y2} stroke="#9a9a9a" strokeWidth={1.2}
          strokeDasharray={e.dashed ? '2,1.6' : undefined} markerEnd={e.arrow ? 'url(#edgeHead)' : undefined} />
      ))}
      {edges.map(e => (
        <text key={e.key} x={e.mx} y={e.my} dy="0.35em" textAnchor="middle" fontFamily={SANS} fontSize={6.8} fill="#333">{e.label}</text>
      ))}
      {nodes.map(n => (
        <circle key={n.name} cx={n.x} cy={n.y} r={n.r} fill={n.up ? '#FF0000' : '#0090F0'} />
      ))}
      {boxedNodes.map(s => {
        const [name, w, h] = s.split(' ');
        const n = byName.get(name)!;
        return <rect key={name} x={n.x - +w} y={n.y - +h} width={+w * 2} height={+h * 2} fill="none" stroke="#F22" strokeWidth={1.4} />;
      })}
      {nodes.map(n => (
        <text key={n.name} x={n.x} y={n.y} dy="0.35em" textAnchor="middle" fontFamily={SANS} fontWeight="bold" fontSize={7.2} fill="#000" stroke="#000" strokeWidth={0.2}>{n.name}</text>
      ))}
    </g>
  );
}

export default function App() {
  return (
    <svg width={2128} height={1800} viewBox="0 0 2128 1800" style={{ position: 'absolute', left: 0, top: 0, display: 'block', background: '#fff' }}>
      <PanelA />
      <PanelB />
      <PanelC />
      <PanelD />
    </svg>
  );
}
